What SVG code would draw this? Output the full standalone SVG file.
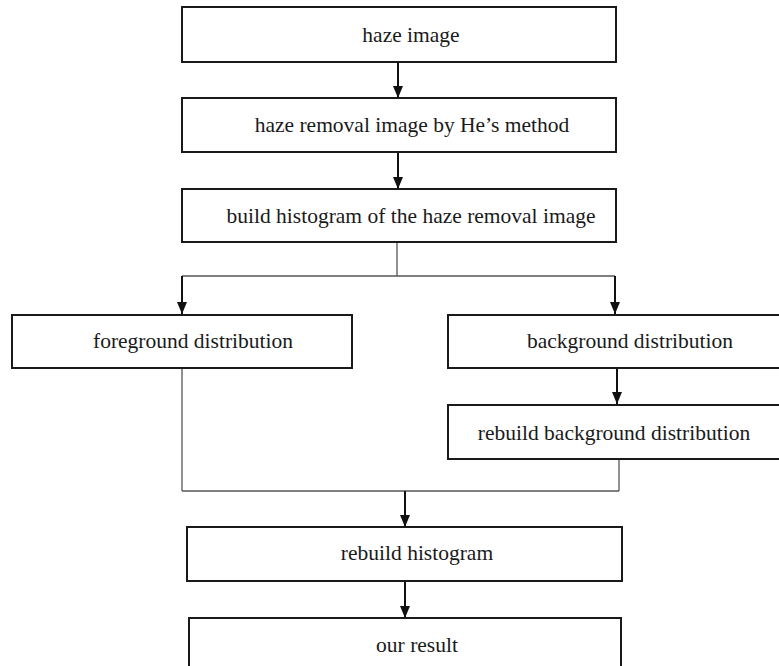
<svg xmlns="http://www.w3.org/2000/svg" width="779" height="666" viewBox="0 0 779 666">
<style>
.box{fill:#fff;stroke:#1a1a1a;stroke-width:2}
.t{font-family:"Liberation Serif","Times New Roman",serif;font-size:21.5px;fill:#1a1a1a;text-anchor:middle}
.arr{stroke:#111;stroke-width:2;fill:none;marker-end:url(#ah)}
.ln{stroke:#555;stroke-width:1.3;fill:none}
</style>
<defs>
<marker id="ah" viewBox="0 0 12 10" refX="12" refY="5" markerWidth="12" markerHeight="10" markerUnits="userSpaceOnUse" orient="auto">
<path d="M0,0 L12,5 L0,10 Z" fill="#111"/>
</marker>
</defs>
<rect width="779" height="666" fill="#fff"/>
<g id="connectors">
<line class="ln" x1="397" y1="242" x2="397" y2="276"/>
<line class="ln" x1="182" y1="276" x2="615" y2="276"/>
<line class="ln" x1="182" y1="368" x2="182" y2="491"/>
<line class="ln" x1="619" y1="459" x2="619" y2="491"/>
<line class="ln" x1="182" y1="491" x2="619" y2="491"/>
<line class="arr" x1="398" y1="62" x2="398" y2="98"/>
<line class="arr" x1="398" y1="152" x2="398" y2="189"/>
<line class="arr" x1="182" y1="276" x2="182" y2="314"/>
<line class="arr" x1="615" y1="276" x2="615" y2="314"/>
<line class="arr" x1="617" y1="368" x2="617" y2="404"/>
<line class="arr" x1="405" y1="491" x2="405" y2="527"/>
<line class="arr" x1="405" y1="581" x2="405" y2="618"/>
</g>
<g id="n1"><rect class="box" x="182" y="7" width="434" height="55"/><text class="t" x="411" y="42">haze image</text></g>
<g id="n2"><rect class="box" x="182" y="98" width="434" height="54"/><text class="t" x="412" y="132">haze removal image by He’s method</text></g>
<g id="n3"><rect class="box" x="182" y="189" width="434" height="53"/><text class="t" x="411" y="223">build histogram of the haze removal image</text></g>
<g id="n4"><rect class="box" x="12" y="315" width="340" height="53"/><text class="t" x="193" y="348">foreground distribution</text></g>
<g id="n5"><rect class="box" x="448" y="315" width="340" height="53"/><text class="t" x="630" y="348">background distribution</text></g>
<g id="n6"><rect class="box" x="448" y="405" width="340" height="54"/><text class="t" x="614" y="440">rebuild background distribution</text></g>
<g id="n7"><rect class="box" x="187" y="527" width="435" height="54"/><text class="t" x="417" y="560">rebuild histogram</text></g>
<g id="n8"><rect class="box" x="189" y="618" width="432" height="60"/><text class="t" x="417" y="652">our result</text></g>
</svg>
